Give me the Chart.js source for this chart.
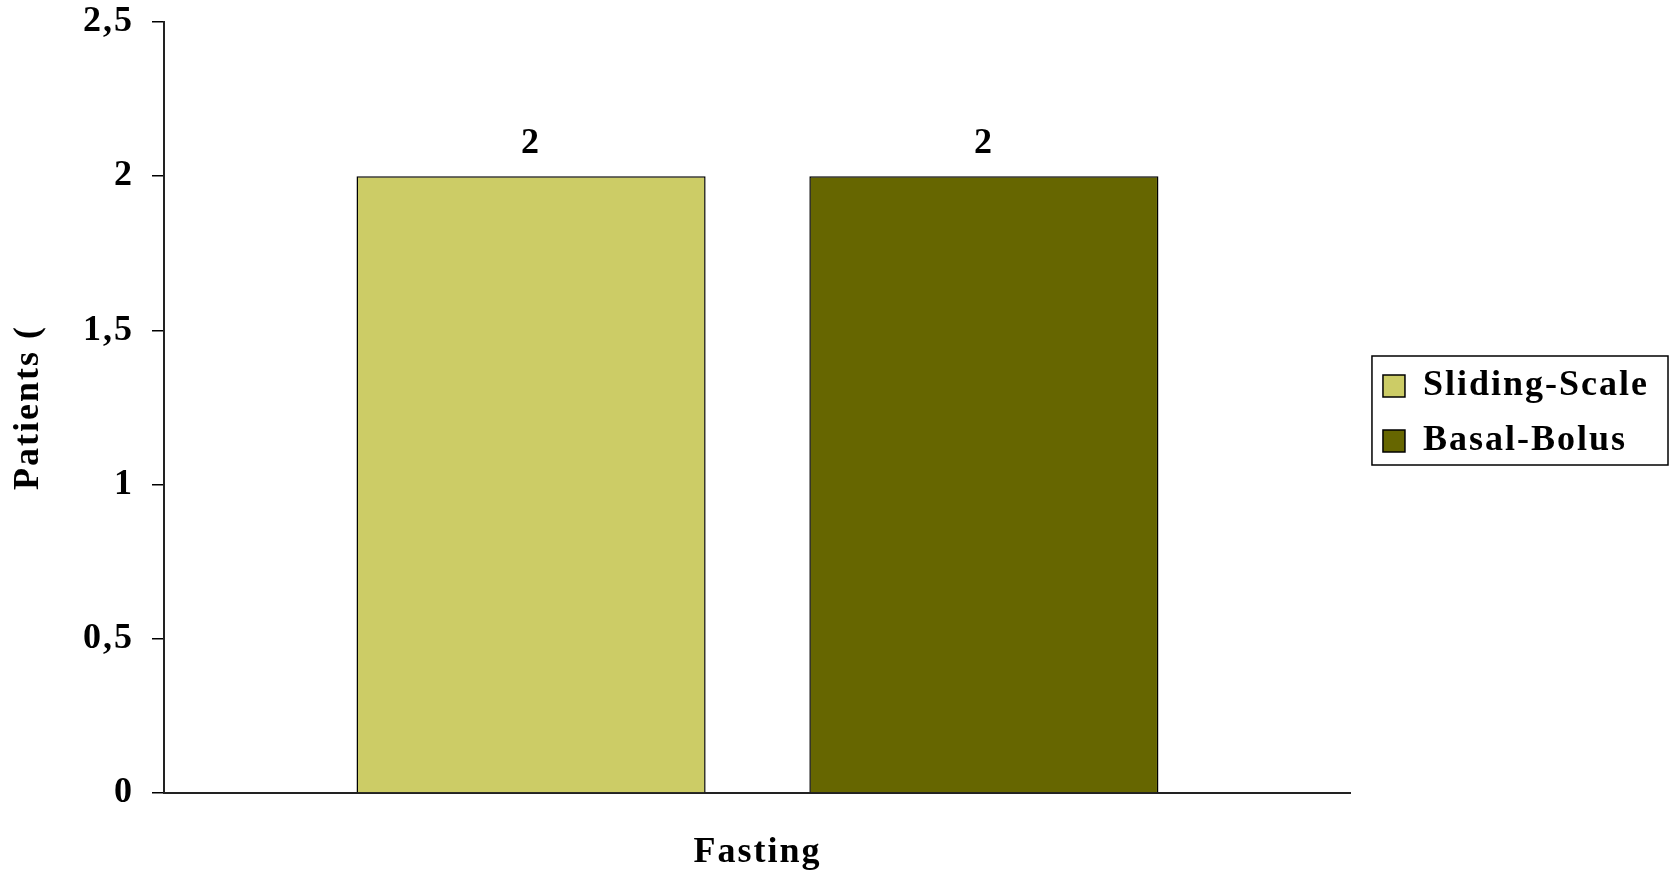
<!DOCTYPE html>
<html>
<head>
<meta charset="utf-8">
<script src="https://cdn.jsdelivr.net/npm/chart.js@4/dist/chart.umd.min.js"></script>
<style>
    html, body { margin: 0; padding: 0; background: #fff; }
    #chart { display: block; }
</style>
</head>
<body>
<canvas id="chart" width="1673" height="870"></canvas>
<script>
    const categories = ["Fasting"];
    const seriesNames = ["Sliding-Scale", "Basal-Bolus"];
    const slidingScale = [2];
    const basalBolus = [2];
    const seriesColors = ["#cccc66", "#666600"];
    const yTicks = [0, 0.5, 1, 1.5, 2, 2.5];
    const yTitle = "Patients (";

    const FONT = "'Liberation Serif', 'Times New Roman', serif";
    const SIZE = 36;

    // the canvas state gets reset on resize, so put the spacing back before layout and draw
    const spacingPlugin = {
        id: "spacing",
        beforeUpdate(chart) { chart.ctx.letterSpacing = "2px"; },
        beforeDraw(chart) { chart.ctx.letterSpacing = "2px"; },
        // push the legend a little away from the plot
        afterLayout(chart) {
            const lg = chart.legend;
            if (!lg) return;
            lg.left = chart.chartArea.right + 13;
            lg.top += 6;
            lg.bottom += 6;
        }
    };

    // value text above each bar
    const valueLabels = {
        id: "valueLabels",
        afterDatasetsDraw(chart) {
            const ctx = chart.ctx;
            ctx.save();
            ctx.font = "bold " + SIZE + "px " + FONT;
            ctx.fillStyle = "#000";
            ctx.textAlign = "center";
            ctx.textBaseline = "middle";
            chart.data.datasets.forEach((ds, i) => {
                chart.getDatasetMeta(i).data.forEach((bar, j) => {
                    ctx.fillText(String(ds.data[j]), bar.x, bar.y - 32);
                });
            });
            ctx.restore();
        }
    };

    // frame around the legend items
    const legendFrame = {
        id: "legendFrame",
        afterDraw(chart) {
            const hb = chart.legend && chart.legend.legendHitBoxes;
            if (!hb || !hb.length) return;
            const first = hb[0];
            const last = hb[hb.length - 1];
            const left = Math.min(...hb.map(h => h.left)) - 11;
            const right = Math.min(Math.max(...hb.map(h => h.left + h.width)) + 20, chart.width - 5);
            const top = first.top + first.height / 2 - 30;
            const bottom = last.top + last.height / 2 + 24;
            const ctx = chart.ctx;
            ctx.save();
            ctx.strokeStyle = "#000";
            ctx.lineWidth = 1.5;
            ctx.strokeRect(left, top, right - left, bottom - top);
            ctx.restore();
        }
    };

    const ctx = document.getElementById("chart").getContext("2d");
    new Chart(ctx, {
        type: "bar",
        data: {
            labels: categories,
            datasets: [
                {
                    label: seriesNames[0],
                    data: slidingScale,
                    backgroundColor: seriesColors[0],
                    borderColor: "#000",
                    borderWidth: 1.5
                },
                {
                    label: seriesNames[1],
                    data: basalBolus,
                    backgroundColor: seriesColors[1],
                    borderColor: "#000",
                    borderWidth: 1.5
                }
            ]
        },
        options: {
            responsive: false,
            animation: false,
            categoryPercentage: 0.763,
            barPercentage: 0.771,
            layout: { padding: { top: 22, right: 27, bottom: 0, left: 0 } },
            plugins: {
                tooltip: { enabled: false },
                legend: {
                    position: "right",
                    fullSize: false,
                    labels: {
                        boxWidth: 22,
                        boxHeight: 22,
                        padding: 19,
                        color: "#000",
                        font: { family: FONT, size: SIZE, weight: "bold" }
                    }
                }
            },
            scales: {
                x: {
                    grid: { display: false, drawTicks: false },
                    border: { display: true, color: "#222", width: 2 },
                    ticks: {
                        color: "#000",
                        padding: 38,
                        font: { family: FONT, size: SIZE, weight: "bold" }
                    },
                    afterFit(scale) { scale.height = 77; }
                },
                y: {
                    min: 0,
                    max: 2.5,
                    afterBuildTicks(axis) {
                        axis.ticks = yTicks.map(v => ({ value: v }));
                    },
                    grid: {
                        drawOnChartArea: false,
                        color: "#000",
                        lineWidth: 1.5,
                        tickLength: 12
                    },
                    border: { display: true, color: "#222", width: 2 },
                    ticks: {
                        color: "#000",
                        padding: 18,
                        font: { family: FONT, size: SIZE, weight: "bold" },
                        callback: v => String(v).replace(".", ",")
                    },
                    title: {
                        display: true,
                        text: yTitle,
                        color: "#000",
                        padding: { top: 7, bottom: 4 },
                        font: { family: FONT, size: SIZE, weight: "bold" }
                    },
                    afterFit(scale) {
                        scale.width = 164;
                        // top label may hang into the layout padding
                        scale.paddingTop = 0;
                        scale.paddingBottom = 0;
                    }
                }
            }
        },
        plugins: [spacingPlugin, valueLabels, legendFrame]
    });
</script>
</body>
</html>
